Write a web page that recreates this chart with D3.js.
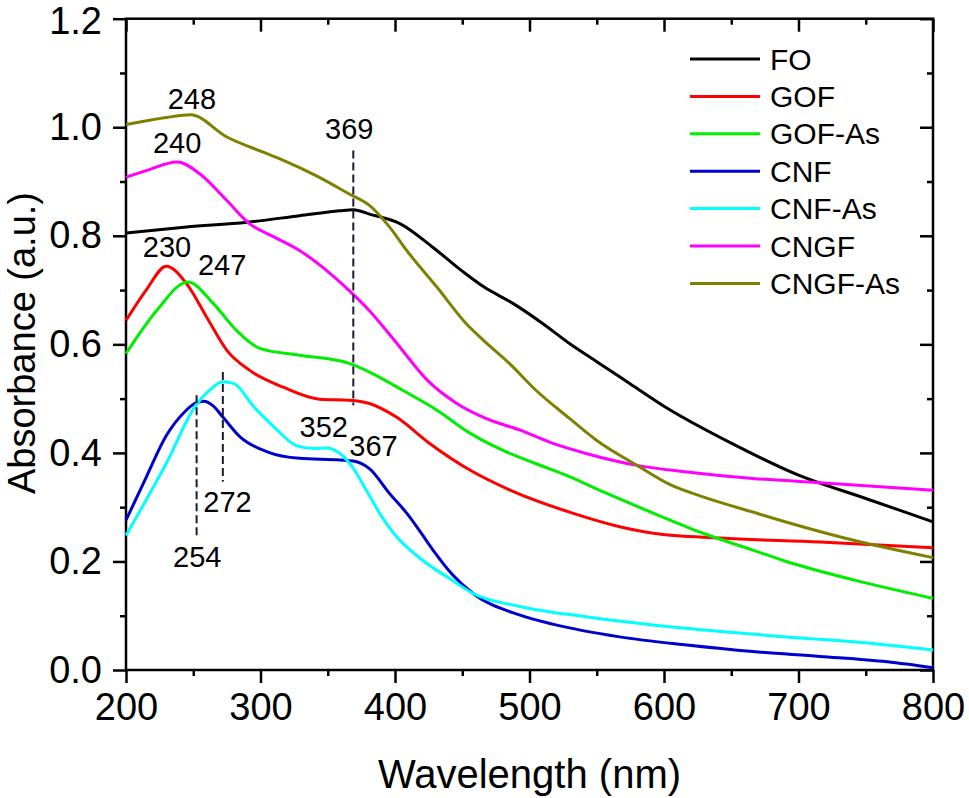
<!DOCTYPE html>
<html>
<head>
<meta charset="utf-8">
<script src="https://cdn.jsdelivr.net/npm/d3@7"></script>
<style>
html,body{margin:0;padding:0;background:#fff;}
svg{display:block;font-family:"Liberation Sans",Arial,sans-serif;}
</style>
</head>
<body>
<svg id="chart" width="969" height="798"></svg>
<script>
// ---- Data ----
const seriesNames = ["FO","GOF","GOF-As","CNF","CNF-As","CNGF","CNGF-As"];
const seriesColors = ["#000000","#ff0000","#00ee00","#0000cc","#00ffff","#ff00ff","#808000"];

const FO_X = [200,245,290,329,359,369,381,404,428,451,466,488,510,530,550,575,600,650,700,750,800];
const FO_Y = [0.805,0.816,0.825,0.837,0.846,0.848,0.840,0.822,0.779,0.733,0.706,0.675,0.638,0.601,0.568,0.527,0.486,0.418,0.359,0.316,0.273];

const GOF_X = [200,215,230,245,260,275,292,317,344,366,381,401,426,456,486,532,567,592,642,716,800];
const GOF_Y = [0.644,0.700,0.744,0.712,0.650,0.589,0.552,0.521,0.499,0.497,0.491,0.466,0.417,0.368,0.331,0.289,0.264,0.252,0.243,0.236,0.225];

const GOFAS_X = [200,223,246,265,282,300,329,366,381,406,431,456,480,505,530,555,592,629,666,691,741,800];
const GOFAS_Y = [0.583,0.663,0.715,0.675,0.626,0.592,0.580,0.565,0.549,0.515,0.479,0.436,0.405,0.380,0.356,0.328,0.289,0.252,0.221,0.200,0.166,0.132];

const CNF_X = [200,215,230,243,252,258,265,272,285,305,329,359,369,381,396,409,419,428,443,458,493,518,567,617,666,716,766,800];
const CNF_Y = [0.276,0.355,0.432,0.474,0.492,0.495,0.486,0.466,0.429,0.402,0.390,0.387,0.385,0.371,0.325,0.288,0.254,0.222,0.175,0.141,0.101,0.084,0.061,0.046,0.034,0.025,0.015,0.004];

const CNFAS_X = [200,230,252,262,272,280,295,310,327,340,349,359,368,379,390,399,419,441,458,493,542,592,642,691,741,800];
const CNFAS_Y = [0.248,0.381,0.488,0.515,0.531,0.528,0.485,0.448,0.413,0.408,0.409,0.399,0.375,0.330,0.283,0.252,0.205,0.168,0.141,0.117,0.098,0.083,0.071,0.061,0.052,0.037];

const CNGF_X = [200,215,238,255,275,292,310,329,366,381,401,424,446,468,493,518,542,580,617,666,716,800];
const CNGF_Y = [0.908,0.920,0.936,0.914,0.865,0.822,0.798,0.773,0.699,0.662,0.603,0.534,0.491,0.463,0.442,0.417,0.399,0.377,0.365,0.353,0.345,0.331];

const CNGFAS_X = [200,230,248,275,302,317,342,366,381,396,409,431,453,466,485,505,530,550,580,605,629,666,703,741,800];
const CNGFAS_Y = [1.005,1.018,1.023,0.982,0.954,0.939,0.910,0.877,0.856,0.816,0.772,0.706,0.638,0.607,0.565,0.515,0.463,0.423,0.377,0.341,0.319,0.291,0.264,0.239,0.207];

const seriesX = [FO_X,GOF_X,GOFAS_X,CNF_X,CNFAS_X,CNGF_X,CNGFAS_X];
const seriesY = [FO_Y,GOF_Y,GOFAS_Y,CNF_Y,CNFAS_Y,CNGF_Y,CNGFAS_Y];

const xMajorTicks = [200,300,400,500,600,700,800];
const xMinorTicks = [250,350,450,550,650,750];
const yMajorTicks = [0.0,0.2,0.4,0.6,0.8,1.0,1.2];
const yMinorTicks = [0.1,0.3,0.5,0.7,0.9,1.1];

// peak annotation labels: text, wavelength, absorbance of label baseline
const labelText = ["248","240","230","247","369","352","367","272","254"];
const labelX    = [249,238,230.5,271.5,366,347,384,275.5,253];
const labelY    = [1.034,0.952,0.761,0.727,0.979,0.429,0.394,0.291,0.190];

// dashed marker lines: wavelength, from absorbance, to absorbance
const markX    = [369,252.5,272];
const markFrom = [0.957,0.506,0.549];
const markTo   = [0.488,0.243,0.347];

// ---- Layout ----
const svg = d3.select("#chart");
const L = 126, R = 933, T = 18.7, B = 670;
const x = d3.scaleLinear().domain([200,800]).range([L,R]);
const y = d3.scaleLinear().domain([0,1.2]).range([B,T]);

const TL = 13, TM = 6;
function styleAxis(g){
  g.select(".domain").remove();
  g.selectAll(".tick line").attr("stroke","#000").attr("stroke-width",2.5);
}

// bottom axis (major with labels)
const gB = svg.append("g").attr("transform",`translate(0,${B})`)
  .call(d3.axisBottom(x).tickValues(xMajorTicks).tickSize(TL).tickPadding(10).tickFormat(d3.format("d")));
styleAxis(gB);
gB.selectAll("text").attr("font-size",38).attr("font-family","Liberation Sans, Arial, sans-serif").attr("fill","#000");
svg.append("g").attr("transform",`translate(0,${B})`)
  .call(d3.axisBottom(x).tickValues(xMinorTicks).tickSize(TM).tickFormat("")).call(styleAxis);

// top axis (ticks inward)
svg.append("g").attr("transform",`translate(0,${T})`)
  .call(d3.axisBottom(x).tickValues(xMajorTicks).tickSize(TL).tickFormat("")).call(styleAxis);
svg.append("g").attr("transform",`translate(0,${T})`)
  .call(d3.axisBottom(x).tickValues(xMinorTicks).tickSize(TM).tickFormat("")).call(styleAxis);

// left axis
const gL = svg.append("g").attr("transform",`translate(${L},0)`)
  .call(d3.axisLeft(y).tickValues(yMajorTicks).tickSize(TL).tickPadding(11).tickFormat(d3.format(".1f")));
styleAxis(gL);
gL.selectAll("text").attr("font-size",38).attr("font-family","Liberation Sans, Arial, sans-serif").attr("fill","#000");
gL.selectAll(".tick text").filter(d=>d===1.2).attr("dy","0.38em");
svg.append("g").attr("transform",`translate(${L},0)`)
  .call(d3.axisLeft(y).tickValues(yMinorTicks).tickSize(TM).tickFormat("")).call(styleAxis);

// right axis (ticks inward)
svg.append("g").attr("transform",`translate(${R},0)`)
  .call(d3.axisLeft(y).tickValues(yMajorTicks).tickSize(TL).tickFormat("")).call(styleAxis);
svg.append("g").attr("transform",`translate(${R},0)`)
  .call(d3.axisLeft(y).tickValues(yMinorTicks).tickSize(TM).tickFormat("")).call(styleAxis);

// frame
svg.append("rect").attr("x",L).attr("y",T).attr("width",R-L).attr("height",B-T)
  .attr("fill","none").attr("stroke","#000").attr("stroke-width",2.5);

// curves
const line = d3.line().x(d=>x(d[0])).y(d=>y(d[1])).curve(d3.curveMonotoneX);
seriesNames.forEach((n,i)=>{
  const pts = seriesX[i].map((v,j)=>[v,seriesY[i][j]]);
  svg.append("path").datum(pts).attr("d",line)
    .attr("fill","none").attr("stroke",seriesColors[i]).attr("stroke-width",3)
    .attr("stroke-linejoin","round");
});

// dashed markers
markX.forEach((m,i)=>{
  svg.append("line").attr("x1",x(m)).attr("x2",x(m))
    .attr("y1",y(markFrom[i])).attr("y2",y(markTo[i]))
    .attr("stroke","#1a1a33").attr("stroke-width",2).attr("stroke-dasharray","8,4");
});

// peak labels
labelText.forEach((t,i)=>{
  svg.append("text").attr("x",x(labelX[i])).attr("y",y(labelY[i]))
    .attr("text-anchor","middle").attr("font-size",29).attr("fill","#000").text(t);
});

// legend
const legY0 = 59, legDY = 37.4;
seriesNames.forEach((n,i)=>{
  const yy = legY0 + i*legDY;
  svg.append("line").attr("x1",690).attr("x2",760).attr("y1",yy).attr("y2",yy)
    .attr("stroke",seriesColors[i]).attr("stroke-width",3);
  svg.append("text").attr("x",770).attr("y",yy).attr("dy","0.35em")
    .attr("font-size",30).attr("fill","#000").text(n);
});

// axis titles
svg.append("text").attr("x",(L+R)/2).attr("y",788).attr("text-anchor","middle")
  .attr("font-size",40).attr("fill","#000").text("Wavelength (nm)");
svg.append("text").attr("transform",`translate(35,343) rotate(-90)`).attr("text-anchor","middle")
  .attr("font-size",38).attr("fill","#000").text("Absorbance (a.u.)");
</script>
</body>
</html>
